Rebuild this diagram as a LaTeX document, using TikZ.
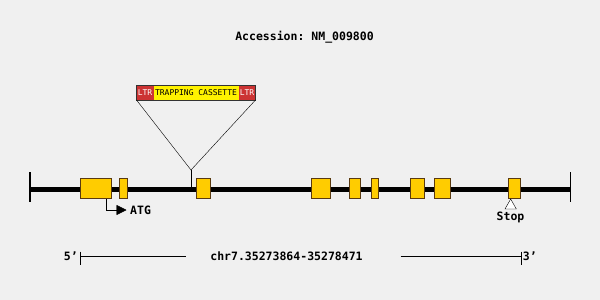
\documentclass[tikz,border=0pt]{standalone}
\usepackage{fontspec}
\setmonofont{DejaVu Sans Mono}
\usetikzlibrary{positioning,arrows.meta}
\definecolor{bggray}{HTML}{F0F0F0}
\definecolor{exonyellow}{HTML}{FFCC00}
\definecolor{exonedge}{HTML}{5A3A10}
\definecolor{ltrred}{HTML}{CC3333}
\tikzset{
  exon/.style={draw=exonedge, fill=exonyellow, line width=0.8, inner sep=0pt, minimum height=20.5},
  lbl/.style={font=\ttfamily\bfseries\fontsize{11.5}{13}\selectfont, inner sep=0pt},
  ltrbox/.style={fill=ltrred, text=white, inner sep=0pt, outer sep=0pt, minimum height=15, minimum width=17,
    font=\ttfamily\fontsize{8}{9}\selectfont},
  cassbox/.style={fill=yellow, inner sep=0pt, outer sep=0pt, minimum height=15, minimum width=85,
    font=\ttfamily\fontsize{8}{9}\selectfont}
}
\begin{document}
\begin{tikzpicture}[x=1pt, y=-1pt]
    \useasboundingbox[fill=bggray] (0,0) rectangle (600,300);

    \node[lbl] (title) at (304.5,37) {Accession: NM\_009800};

    % gene line
    \coordinate (gl) at (30,189);
    \coordinate (gr) at (570.5,189);
    \draw[line width=5] (gl) -- (gr);
    \draw[line width=1.2] (30,172) -- (30,202);
    \draw[line width=1.2] (570.5,172) -- (570.5,202);

    \foreach \a/\b [count=\i, evaluate=\b as \w using \b-\a, evaluate=\b as \m using (\a+\b)/2] in
        {80/111.7, 119.3/127.3, 196/210, 311/330, 349/360, 371/378.7, 410/424.3, 434/450.7, 508.3/520.7}
        \node[exon, minimum width=\w] (ex\i) at (\m,188.6) {};

    % insertion site
    \node[ltrbox, anchor=west] (ltrL) at (136.5,92.5) {LTR};
    \node[cassbox, right=0pt of ltrL] (cass) {TRAPPING CASSETTE};
    \node[ltrbox, right=0pt of cass] (ltrR) {LTR};
    \draw[black!80] (ltrL.north west) rectangle (ltrR.south east);
    \coordinate (apex) at (191,170);
    \coordinate (ins) at (191,188);
    \draw (ltrL.south west) -- (apex) -- (ltrR.south east);
    \draw (apex) -- (ins);

    % start and stop
    \node[lbl, anchor=west] (atg) at (130,210) {ATG};
    \draw[-{Triangle[length=10,width=10]}] ([xshift=-6]ex1.south east) |- ([xshift=-3.5]atg.west);
    \node[lbl] (stop) at (510.5,217.5) {Stop};
    \draw[fill=white] (505,209) -- (510.7,199) -- (516.3,209) -- cycle;

    % scale
    \node[lbl] (five) at (70.8,256) {5’};
    \node[lbl] (chr) at (286.5,256) {chr7.35273864-35278471};
    \node[lbl] (three) at (529.8,256) {3’};
    \coordinate (sl) at (80,256);
    \coordinate (sr) at (520.7,256);
    \draw (sl) -- (185.7,256);
    \draw (400.7,256) -- (sr);
    \draw (80,251.5) -- (80,265);
    \draw (520.7,251.5) -- (520.7,265);
\end{tikzpicture}
\end{document}
